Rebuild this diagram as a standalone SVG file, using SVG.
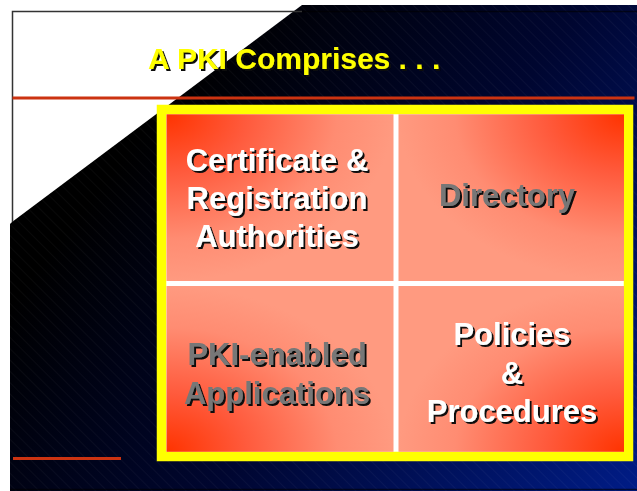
<svg xmlns="http://www.w3.org/2000/svg" width="637" height="491" viewBox="0 0 637 491">
  <defs>
    <linearGradient id="bg" gradientUnits="userSpaceOnUse" x1="150" y1="120" x2="637" y2="491">
      <stop offset="0" stop-color="#000000"/>
      <stop offset="0.45" stop-color="#000630"/>
      <stop offset="1" stop-color="#001c86"/>
    </linearGradient>
    <pattern id="hatch" patternUnits="userSpaceOnUse" width="8" height="8" patternTransform="rotate(-45)">
      <line x1="0" y1="0" x2="0" y2="8" stroke="#ffffff" stroke-opacity="0.07" stroke-width="1"/>
    </pattern>
    <radialGradient id="gTL" cx="0" cy="0" r="1" fx="0" fy="0">
      <stop offset="0" stop-color="#ff3300"/>
      <stop offset="0.35" stop-color="#ff5a3c"/>
      <stop offset="0.75" stop-color="#ff8c72"/>
      <stop offset="1" stop-color="#ff9a80"/>
    </radialGradient>
    <radialGradient id="gTR" cx="1" cy="0" r="1" fx="1" fy="0">
      <stop offset="0" stop-color="#ff3300"/>
      <stop offset="0.35" stop-color="#ff5a3c"/>
      <stop offset="0.75" stop-color="#ff8c72"/>
      <stop offset="1" stop-color="#ff9a80"/>
    </radialGradient>
    <radialGradient id="gBL" cx="0" cy="1" r="1" fx="0" fy="1">
      <stop offset="0" stop-color="#ff3300"/>
      <stop offset="0.35" stop-color="#ff5a3c"/>
      <stop offset="0.75" stop-color="#ff8c72"/>
      <stop offset="1" stop-color="#ff9a80"/>
    </radialGradient>
    <radialGradient id="gBR" cx="1" cy="1" r="1" fx="1" fy="1">
      <stop offset="0" stop-color="#ff3300"/>
      <stop offset="0.35" stop-color="#ff5a3c"/>
      <stop offset="0.75" stop-color="#ff8c72"/>
      <stop offset="1" stop-color="#ff9a80"/>
    </radialGradient>
    <filter id="shadow" x="-10%" y="-20%" width="120%" height="140%">
      <feDropShadow dx="2" dy="2" stdDeviation="0" flood-color="#111111" flood-opacity="1"/>
    </filter>
  </defs>
  <style>
    text { font-family: "Liberation Sans", Arial, sans-serif; font-weight: bold; filter: url(#shadow); }
    .title { font-size: 30px; fill: #ffff00; }
    .cell { font-size: 31px; text-anchor: middle; }
    .white { fill: #ffffff; }
    .grey { fill: #777777; }
    .rule { fill: #cc3311; }
  </style>

  <g id="background">
    <rect x="0" y="0" width="637" height="491" fill="#ffffff"/>
    <polygon points="302,5 637,5 637,491 10,491 10,224 12,222" fill="url(#bg)"/>
    <polygon points="302,5 637,5 637,491 10,491 10,224 12,222" fill="url(#hatch)"/>
    <polyline points="12.5,222 12.5,11.5 302,11.5" fill="none" stroke="#333333" stroke-width="1.5"/>
    <line x1="302" y1="11.5" x2="637" y2="11.5" stroke="#000000" stroke-opacity="0.6" stroke-width="1.5"/>
    <line x1="10" y1="489.5" x2="637" y2="489.5" stroke="#000000" stroke-opacity="0.6" stroke-width="1.5"/>
    <rect class="rule" x="12.5" y="96.5" width="622" height="3"/>
    <rect class="rule" x="13" y="457" width="108" height="3"/>
  </g>

  <g id="title">
    <text class="title" x="148" y="69">A PKI Comprises . . .</text>
  </g>

  <g id="frame">
    <rect x="161.5" y="109.5" width="467" height="347" fill="#ffffff" stroke="#ffff00" stroke-width="9.5"/>
  </g>

  <g id="node-ca">
    <rect x="166.5" y="114.3" width="227" height="166.7" fill="url(#gTL)"/>
    <text class="cell white" x="277" y="170.5">Certificate &amp;</text>
    <text class="cell white" x="277" y="209">Registration</text>
    <text class="cell white" x="277" y="247">Authorities</text>
  </g>

  <g id="node-directory">
    <rect x="398.5" y="114.3" width="225.5" height="166.7" fill="url(#gTR)"/>
    <text class="cell grey" x="507" y="205.5">Directory</text>
  </g>

  <g id="node-apps">
    <rect x="166.5" y="286" width="227" height="165.8" fill="url(#gBL)"/>
    <text class="cell grey" x="277" y="365">PKI-enabled</text>
    <text class="cell grey" x="277" y="403.5">Applications</text>
  </g>

  <g id="node-policies">
    <rect x="398.5" y="286" width="225.5" height="165.8" fill="url(#gBR)"/>
    <text class="cell white" x="512" y="345">Policies</text>
    <text class="cell white" x="512" y="383.5">&amp;</text>
    <text class="cell white" x="512" y="421.5">Procedures</text>
  </g>
</svg>
